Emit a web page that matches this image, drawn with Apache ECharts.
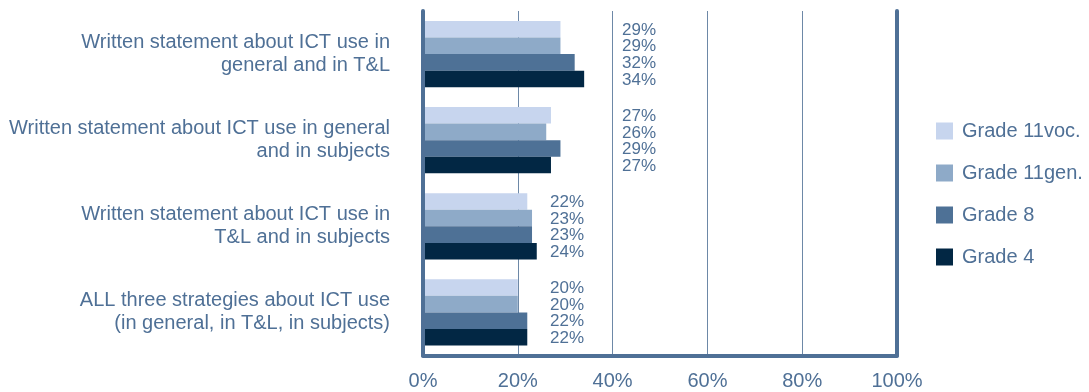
<!DOCTYPE html>
<html>
<head>
<meta charset="utf-8">
<script src="https://cdn.jsdelivr.net/npm/echarts@6/dist/echarts.min.js"></script>
<style>html,body{margin:0;padding:0;background:#fff}#c{width:1089px;height:392px}</style>
</head>
<body>
<div id="c"></div>
<script>
const categories = [
  "Written statement about ICT use in\ngeneral and in T&L",
  "Written statement about ICT use in general\nand in subjects",
  "Written statement about ICT use in\nT&L and in subjects",
  "ALL three strategies about ICT use\n(in general, in T&L, in subjects)"
];
const seriesNames = ["Grade 11voc.", "Grade 11gen.", "Grade 8", "Grade 4"];
const grade11voc = [29, 27, 22, 20];
const grade11gen = [29, 26, 23, 20];
const grade8 = [32, 29, 23, 22];
const grade4 = [34, 27, 24, 22];
const xTicks = [0, 20, 40, 60, 80, 100];

// layout constants (pixel offsets of value labels per category)
const labelOffsetPx = [199, 199, 127, 127];
const colors = ["#c7d5ee", "#8eaac8", "#4e7196", "#022744"];
const textColor = "#4f7096";
const FONT = "'Liberation Sans', Arial, sans-serif";

const values = [grade11voc, grade11gen, grade8, grade4];

const chart = echarts.init(document.getElementById('c'), null, {renderer: 'canvas'});
chart.setOption({
  animation: false,
  textStyle: {fontFamily: FONT},
  grid: {left: 423, right: 192, top: 11, bottom: 36.5, containLabel: false},
  legend: {
    orient: 'vertical', left: 931, top: 116,
    itemWidth: 17, itemHeight: 17, itemGap: 22,
    icon: 'rect',
    textStyle: {color: textColor, fontSize: 20, fontFamily: FONT, padding: [0, 0, 0, 4]},
    data: seriesNames
  },
  xAxis: {
    type: 'value', min: xTicks[0], max: xTicks[xTicks.length - 1], interval: 20,
    axisLine: {show: true, lineStyle: {color: '#4f7096', width: 4}},
    axisTick: {show: false},
    splitLine: {show: true, lineStyle: {color: '#6d88a7', width: 1}},
    axisLabel: {color: textColor, fontSize: 20, margin: 16, formatter: v => v + '%'}
  },
  yAxis: [{
    type: 'category', inverse: true, data: categories, z: 5,
    axisLine: {show: true, lineStyle: {color: '#4f7096', width: 4}},
    axisTick: {show: false},
    axisLabel: {color: textColor, fontSize: 20, lineHeight: 23, margin: 33, align: 'right'}
  }, {
    type: 'category', inverse: true, data: categories, position: 'right', z: 5,
    axisLine: {show: true, lineStyle: {color: '#4f7096', width: 4}},
    axisTick: {show: false}, axisLabel: {show: false}
  }],
  series: seriesNames.map((name, si) => ({
    name, type: 'bar', barGap: '0%', barCategoryGap: '23%',
    itemStyle: {color: colors[si]},
    label: {
      show: true, position: 'insideLeft', distance: 0,
      color: textColor, fontSize: 17, fontFamily: FONT,
      formatter: p => p.value + '%'
    },
    data: values[si].map((v, ci) => ({value: v, label: {offset: [labelOffsetPx[ci], 1]}}))
  }))
});
</script>
</body>
</html>
